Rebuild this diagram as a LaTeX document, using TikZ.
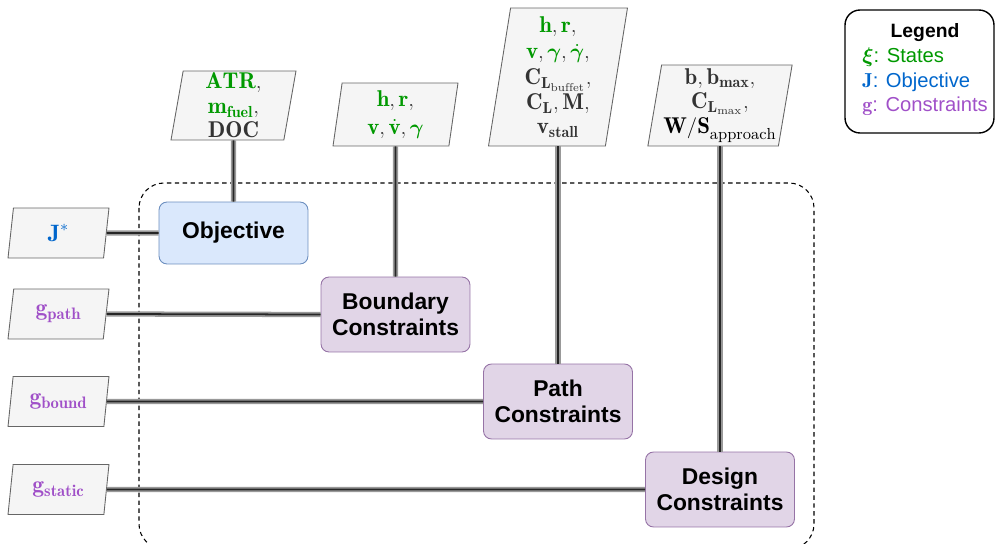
\documentclass[tikz,border=0pt]{standalone}
\usepackage{amsmath}
\usepackage{fontspec}
\newfontfamily\boxfont{Liberation Sans}
\usetikzlibrary{shapes.geometric}
\definecolor{stategreen}{HTML}{009900}
\definecolor{objblue}{HTML}{0066CC}
\definecolor{conpurple}{HTML}{A050C8}
\definecolor{datatext}{HTML}{333333}
\definecolor{objfill}{HTML}{DAE8FC}
\definecolor{objdraw}{HTML}{6C8EBF}
\definecolor{confill}{HTML}{E1D5E7}
\definecolor{condraw}{HTML}{9673A6}
\definecolor{datafill}{HTML}{F5F5F5}
\definecolor{datadraw}{HTML}{666666}
\newcommand{\st}[1]{\textcolor{stategreen}{#1}}
\tikzset{
  func/.style={draw, rounded corners=0.16cm, line width=0.5pt, minimum width=2.98cm,
    align=center, font=\boxfont\fontsize{13}{15}\selectfont\bfseries},
  objfunc/.style={func, fill=objfill, draw=objdraw, minimum height=1.24cm},
  confunc/.style={func, fill=confill, draw=condraw, minimum height=1.5cm},
  data/.style={trapezium, trapezium stretches body, draw=datadraw, fill=datafill,
    line width=0.5pt, text=datatext, align=center, inner sep=1pt,
    font=\fontsize{13}{14}\selectfont},
  datain/.style={data, trapezium left angle=75, trapezium right angle=105,
    minimum width=2.02cm, minimum height=1cm, font=\fontsize{13.5}{14}\selectfont},
  dataout/.style={data, trapezium left angle=80, trapezium right angle=100},
  dataline/.style={draw=black!40, line width=3pt, postaction={draw=black!85, line width=1pt}},
}
\begin{document}
\begin{tikzpicture}[x=0.02cm, y=-0.02cm]
\useasboundingbox (0,0) rectangle (998,544);
% system boundary
\draw[dash pattern=on 2.5pt off 2pt, rounded corners=0.5cm, line width=0.6pt] (139,183) rectangle (814,549);

% functions
\node[objfunc] (obj)    at (233.5,233)   {Objective};
\node[confunc] (bound)  at (395.5,314.5) {Boundary\\Constraints};
\node[confunc] (path)   at (558,401.5)   {Path\\Constraints};
\node[confunc] (design) at (720,489.5)   {Design\\Constraints};

% variables above
\node[dataout, minimum width=2.5cm, minimum height=1.38cm] (objvars) at (233.5,105.5)
  {$\st{\mathbf{ATR}},$\\ $\st{\mathbf{m}_{\mathbf{fuel}}},$\\ $\mathbf{DOC}$};
\node[dataout, minimum width=2.5cm, minimum height=1.26cm] (boundvars) at (395.5,114.5)
  {$\st{\mathbf{h}}, \st{\mathbf{r}},$\\[2pt] $\st{\mathbf{v}}, \st{\dot{\mathbf{v}}}, \st{\boldsymbol{\gamma}}$};
\node[dataout, minimum width=2.78cm, minimum height=2.76cm] (pathvars) at (558,77)
  {$\st{\mathbf{h}}, \st{\mathbf{r}},$\\[1pt] $\st{\mathbf{v}}, \st{\boldsymbol{\gamma}}, \st{\dot{\boldsymbol{\gamma}}},$\\[1pt]
   $\mathbf{C}_{\mathbf{L}_{\mathrm{buffet}}},$\\ $\mathbf{C}_{\mathbf{L}}, \mathbf{M},$\\ $\mathbf{v}_{\mathbf{stall}}$};
\node[dataout, minimum width=2.74cm, minimum height=1.62cm] (designvars) at (720,105.5)
  {$\mathbf{b}, \mathbf{b}_{\mathbf{max}},$\\ $\mathbf{C}_{\mathbf{L}_{\mathrm{max}}},$\\
   $\textcolor{black}{\mathbf{W/S}_{\mathrm{approach}}}$};

% variables on the left
\node[datain] (jstar)   at (58.5,233) {$\textcolor{objblue}{\mathbf{J}^{*}}$};
\node[datain] (gpath)   at (58.5,314) {$\textcolor{conpurple}{\mathbf{g}_{\mathbf{path}}}$};
\node[datain] (gbound)  at (58.5,401.5) {$\textcolor{conpurple}{\mathbf{g}_{\mathbf{bound}}}$};
\node[datain] (gstatic) at (58.5,489.5) {$\textcolor{conpurple}{\mathbf{g}_{\mathbf{static}}}$};

% connections
\draw[dataline] (objvars.south) -- (obj.north);
\draw[dataline] (boundvars.south) -- (bound.north);
\draw[dataline] (path.north |- pathvars.south) -- (path.north);
\draw[dataline] (design.north |- designvars.south) -- (design.north);
\draw[dataline] (jstar.east) -- (obj.west);
\draw[dataline] (gpath.east) -- (bound.west);
\draw[dataline] (gbound.east) -- (path.west);
\draw[dataline] (gstatic.east) -- (design.west);

% legend
\node[draw, rounded corners=0.3cm, line width=0.8pt, minimum width=2.98cm, minimum height=2.46cm] (legend) at (919.5,71.5) {};
\node[font=\boxfont\fontsize{11}{13}\selectfont\bfseries] (legtitle) at (925,33) {Legend};
\node[anchor=west, align=left, inner sep=0pt, font=\boxfont\fontsize{11.5}{13.9}\selectfont] (legitems) at (862,82)
  {\textcolor{stategreen}{$\boldsymbol{\xi}$: States}\\
   \textcolor{objblue}{$\mathbf{J}$: Objective}\\
   \textcolor{conpurple}{$\mathbf{g}$: Constraints}};
\end{tikzpicture}
\end{document}
